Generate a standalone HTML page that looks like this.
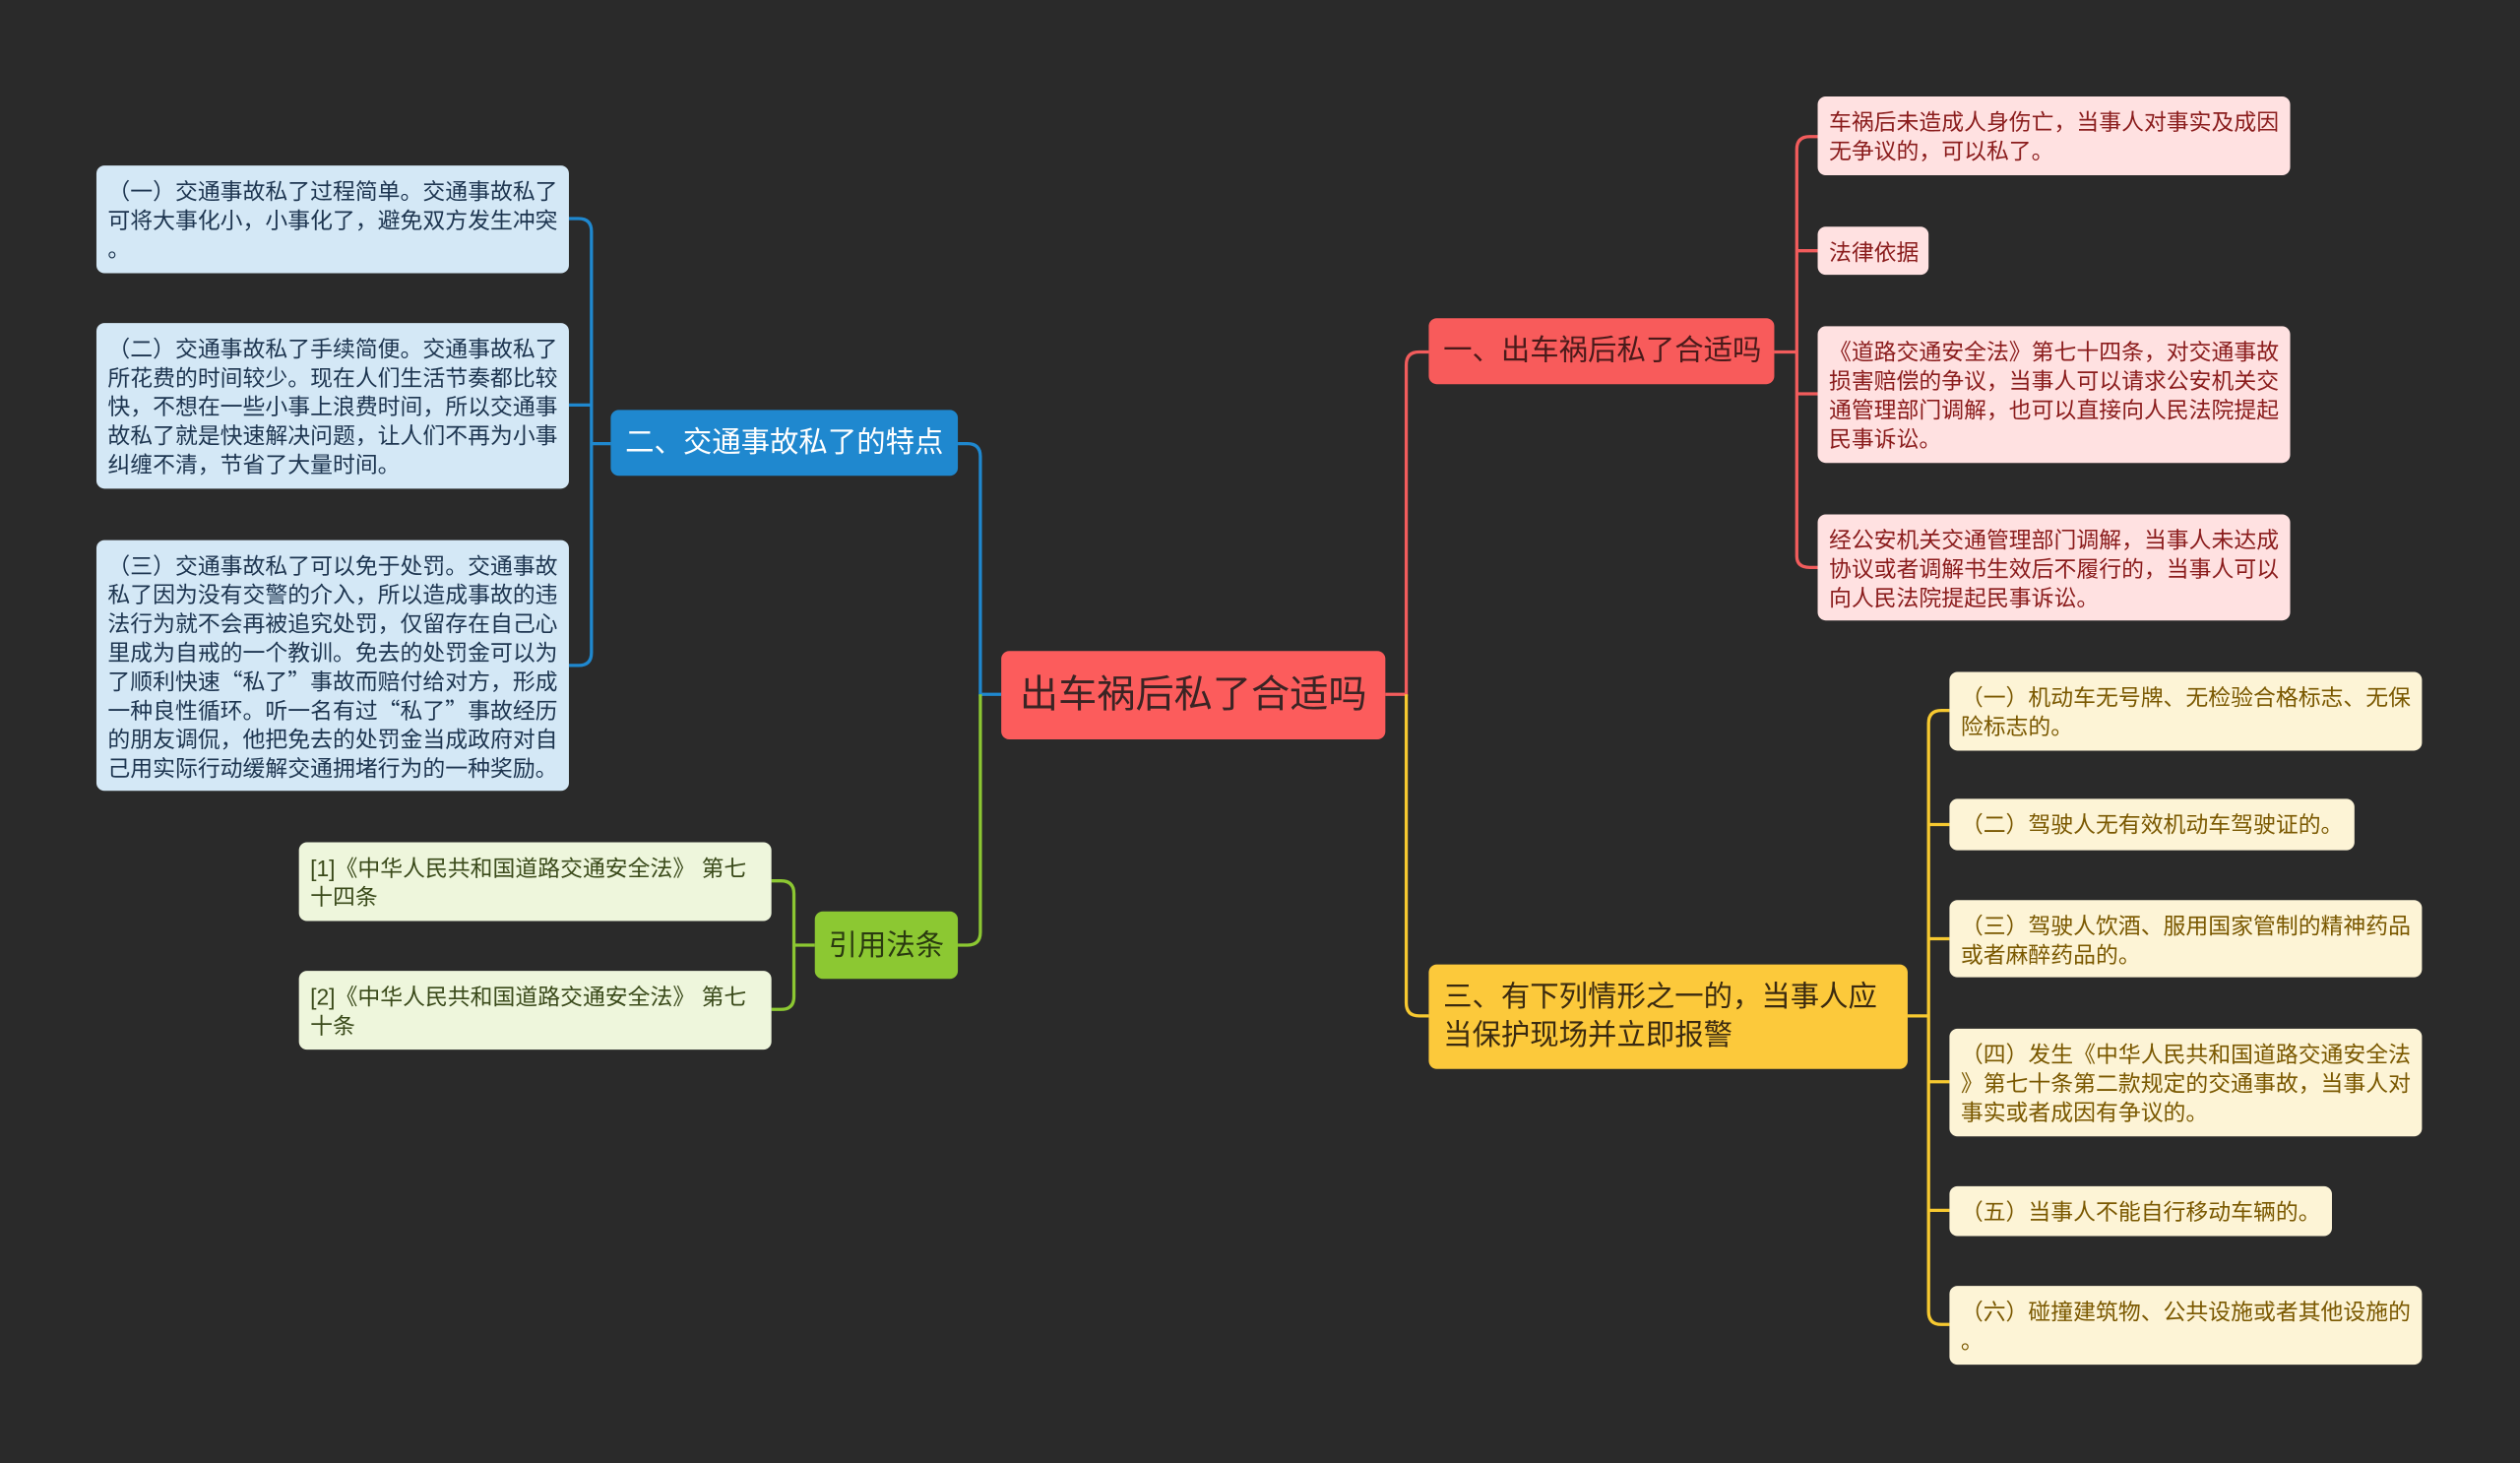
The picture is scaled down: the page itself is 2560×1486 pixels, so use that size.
<!DOCTYPE html>
<html><head><meta charset="utf-8"><style>
html,body{margin:0;padding:0;background:#2a2a2a;}
body{width:2560px;height:1485px;overflow:hidden;}
#w{position:absolute;left:0;top:0;width:1568px;height:910px;transform:scale(1.63265);transform-origin:0 0;font-family:"Liberation Sans","Noto Sans CJK SC",sans-serif;}
.n{position:absolute;box-sizing:border-box;border-radius:5px;white-space:nowrap;}
.l{font-size:14px;line-height:18px;padding:7px 7px;}
.r{background:#ffe1e1;color:#8a1c1c;}
.y{background:#fdf4d6;color:#7a5800;}
.b{background:#d4e8f6;color:#1d3550;}
.g{background:#eef6dc;color:#3a4a1a;}
.q{font-family:"Noto Sans CJK SC",sans-serif;}
svg{position:absolute;left:0;top:0;}
</style></head><body><div id="w">
<svg width="1568" height="910" fill="none" stroke-width="2">
<g stroke="#f25c5c">
<path d="M862 432 H875 V227 Q875 219 883 219 H889"/>
<path d="M1104 219 H1118"/>
<path d="M1131 85 H1126 Q1118 85 1118 93 V346 Q1118 353 1126 353 H1131"/>
<path d="M1118 156 H1131 M1118 245 H1131"/>
</g>
<g stroke="#f7c930">
<path d="M875 432 V624 Q875 632 883 632 H889"/>
<path d="M1187 632 H1200"/>
<path d="M1213 442 H1208 Q1200 442 1200 450 V816 Q1200 824 1208 824 H1213"/>
<path d="M1200 513 H1213 M1200 584 H1213 M1200 673 H1213 M1200 753 H1213"/>
</g>
<g stroke="#1f88cf">
<path d="M623 432 H610 V284 Q610 276 602 276 H596"/>
<path d="M380 276 H368"/>
<path d="M354 136 H360 Q368 136 368 144 V406 Q368 414 360 414 H354"/>
<path d="M368 252 H354"/>
</g>
<g stroke="#8cc832">
<path d="M610 432 V580 Q610 588 602 588 H596"/>
<path d="M507 588 H494"/>
<path d="M480 548 H486 Q494 548 494 556 V620 Q494 628 486 628 H480"/>
</g>
</svg>

<div class="n" style="left:623px;top:405px;width:239px;height:55px;background:#fc5c5c;color:#3a2424;font-size:24px;line-height:55px;text-align:center;">出车祸后私了合适吗</div>

<div class="n" style="left:889px;top:198px;width:215px;height:41px;background:#f85b5b;color:#4a1a1a;font-size:18px;line-height:41px;padding-left:9px;">一、出车祸后私了合适吗</div>
<div class="n l r" style="left:1131px;top:60px;width:294px;height:49px;">车祸后未造成人身伤亡，当事人对事实及成因<br>无争议的，可以私了。</div>
<div class="n l r" style="left:1131px;top:141px;width:69px;height:30px;">法律依据</div>
<div class="n l r" style="left:1131px;top:203px;width:294px;height:85px;">《道路交通安全法》第七十四条，对交通事故<br>损害赔偿的争议，当事人可以请求公安机关交<br>通管理部门调解，也可以直接向人民法院提起<br>民事诉讼。</div>
<div class="n l r" style="left:1131px;top:320px;width:294px;height:66px;">经公安机关交通管理部门调解，当事人未达成<br>协议或者调解书生效后不履行的，当事人可以<br>向人民法院提起民事诉讼。</div>

<div class="n" style="left:889px;top:600px;width:298px;height:65px;background:#fcc93b;color:#3a2a10;font-size:18px;line-height:24px;padding:8px 9px;">三、有下列情形之一的，当事人应<br>当保护现场并立即报警</div>
<div class="n l y" style="left:1213px;top:418px;width:294px;height:49px;">（一）机动车无号牌、无检验合格标志、无保<br>险标志的。</div>
<div class="n l y" style="left:1213px;top:497px;width:252px;height:32px;">（二）驾驶人无有效机动车驾驶证的。</div>
<div class="n l y" style="left:1213px;top:560px;width:294px;height:48px;">（三）驾驶人饮酒、服用国家管制的精神药品<br>或者麻醉药品的。</div>
<div class="n l y" style="left:1213px;top:640px;width:294px;height:67px;">（四）发生《中华人民共和国道路交通安全法<br>》第七十条第二款规定的交通事故，当事人对<br>事实或者成因有争议的。</div>
<div class="n l y" style="left:1213px;top:738px;width:238px;height:31px;">（五）当事人不能自行移动车辆的。</div>
<div class="n l y" style="left:1213px;top:800px;width:294px;height:49px;">（六）碰撞建筑物、公共设施或者其他设施的<br>。</div>

<div class="n" style="left:380px;top:255px;width:216px;height:41px;background:#1f88cf;color:#fff;font-size:18px;line-height:41px;padding-left:9px;">二、交通事故私了的特点</div>
<div class="n l b" style="left:60px;top:103px;width:294px;height:67px;">（一）交通事故私了过程简单。交通事故私了<br>可将大事化小，小事化了，避免双方发生冲突<br>。</div>
<div class="n l b" style="left:60px;top:201px;width:294px;height:103px;">（二）交通事故私了手续简便。交通事故私了<br>所花费的时间较少。现在人们生活节奏都比较<br>快，不想在一些小事上浪费时间，所以交通事<br>故私了就是快速解决问题，让人们不再为小事<br>纠缠不清，节省了大量时间。</div>
<div class="n l b" style="left:60px;top:336px;width:294px;height:156px;">（三）交通事故私了可以免于处罚。交通事故<br>私了因为没有交警的介入，所以造成事故的违<br>法行为就不会再被追究处罚，仅留存在自己心<br>里成为自戒的一个教训。免去的处罚金可以为<br>了顺利快速<span class="q">“</span>私了<span class="q">”</span>事故而赔付给对方，形成<br>一种良性循环。听一名有过<span class="q">“</span>私了<span class="q">”</span>事故经历<br>的朋友调侃，他把免去的处罚金当成政府对自<br>己用实际行动缓解交通拥堵行为的一种奖励。</div>

<div class="n" style="left:507px;top:567px;width:89px;height:42px;background:#8cc832;color:#2a3a10;font-size:18px;line-height:42px;text-align:center;">引用法条</div>
<div class="n l g" style="left:186px;top:524px;width:294px;height:49px;">[1]《中华人民共和国道路交通安全法》 第七<br>十四条</div>
<div class="n l g" style="left:186px;top:604px;width:294px;height:49px;">[2]《中华人民共和国道路交通安全法》 第七<br>十条</div>
</div></body></html>
